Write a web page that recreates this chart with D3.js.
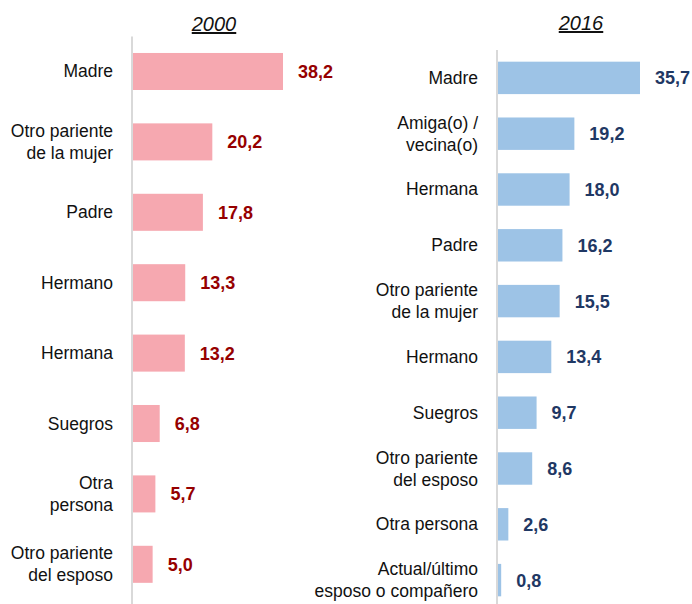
<!DOCTYPE html>
<html>
<head>
<meta charset="utf-8">
<script src="https://cdn.jsdelivr.net/npm/d3@7"></script>
<style>
  body { margin: 0; background: #fff; }
  svg { display: block; font-family: "Liberation Sans", Arial, sans-serif; }
</style>
</head>
<body>
<div id="chart"></div>
<script>
// data, 2000
var cats2000 = ["Madre", "Otro pariente\nde la mujer", "Padre", "Hermano", "Hermana", "Suegros", "Otra\npersona", "Otro pariente\ndel esposo"];
var vals2000 = [38.2, 20.2, 17.8, 13.3, 13.2, 6.8, 5.7, 5.0];

// data, 2016
var cats2016 = ["Madre", "Amiga(o) /\nvecina(o)", "Hermana", "Padre", "Otro pariente\nde la mujer", "Hermano", "Suegros", "Otro pariente\ndel esposo", "Otra persona", "Actual/último\nesposo o compañero"];
var vals2016 = [35.7, 19.2, 18.0, 16.2, 15.5, 13.4, 9.7, 8.6, 2.6, 0.8];

var width = 692, height = 604;

var svg = d3.select("#chart")
  .append("svg")
    .attr("width", width)
    .attr("height", height);

// cut off subtitle at the very top
svg.append("text")
    .attr("x", 328)
    .attr("y", -3)
    .attr("text-anchor", "middle")
    .style("font-size", "17px")
    .style("fill", "#8aa9ad")
    .text("(porcentaje)");

function fmt(v) { return d3.format(".1f")(v).replace(".", ","); }

function panel(cats, vals, opt) {
    var x = d3.scaleLinear()
        .domain([0, d3.max(vals)])
        .range([opt.x0, opt.x1]);

    var y = d3.scaleBand()
        .domain(cats)
        .range(opt.yRange)
        .padding(opt.pad);

    var g = svg.append("g");

    // title
    var t = g.append("text")
        .attr("x", opt.titleX)
        .attr("y", opt.titleY)
        .attr("text-anchor", "middle")
        .style("font-size", "20px")
        .style("font-style", "italic")
        .style("text-decoration", "underline")
        .style("fill", "#111")
        .text(opt.title);

    // vertical axis line
    g.append("line")
        .attr("x1", opt.x0 - 1).attr("x2", opt.x0 - 1)
        .attr("y1", opt.lineTop).attr("y2", height)
        .attr("stroke", "#d9d9d9")
        .attr("stroke-width", 2);

    g.selectAll("rect")
        .data(vals)
        .enter()
        .append("rect")
        .attr("x", x(0))
        .attr("y", (d, i) => y(cats[i]))
        .attr("width", d => x(d) - x(0))
        .attr("height", y.bandwidth())
        .style("fill", opt.barColor);

    g.selectAll(".val")
        .data(vals)
        .enter()
        .append("text")
        .attr("class", "val")
        .attr("x", d => x(d) + 15)
        .attr("y", (d, i) => y(cats[i]) + y.bandwidth() / 2)
        .attr("dy", "0.36em")
        .style("font-size", "18px")
        .style("font-weight", "bold")
        .style("fill", opt.valColor)
        .text(d => fmt(d));

    // category labels through an axis
    var ax = g.append("g")
        .attr("transform", "translate(" + (opt.x0 - 1) + ",0)")
        .call(d3.axisLeft(y).tickSize(0).tickPadding(19));
    ax.select(".domain").remove();
    ax.selectAll("text")
        .style("font-size", "17.5px")
        .style("font-family", "'Liberation Sans', Arial, sans-serif")
        .style("fill", "#111")
        .attr("dy", null)
        .each(function(d) {
            var lines = d.split("\n");
            var el = d3.select(this).text(null);
            var lh = 22;
            var first = -(lines.length - 1) * lh / 2 + 6;
            lines.forEach(function(l, k) {
                el.append("tspan")
                    .attr("x", -19)
                    .attr("y", first + k * lh)
                    .text(l);
            });
        });
}

panel(cats2000, vals2000, {
    x0: 133, x1: 283,
    yRange: [19.6, 616.2], pad: 0.474,
    title: "2000", titleX: 214, titleY: 31,
    lineTop: 36.5,
    barColor: "#f6a8b0", valColor: "#960000"
});

panel(cats2016, vals2016, {
    x0: 498, x1: 640,
    yRange: [38.3, 619.7], pad: 0.419,
    title: "2016", titleX: 581, titleY: 30,
    lineTop: 50,
    barColor: "#9dc3e6", valColor: "#1f3864"
});
</script>
</body>
</html>
